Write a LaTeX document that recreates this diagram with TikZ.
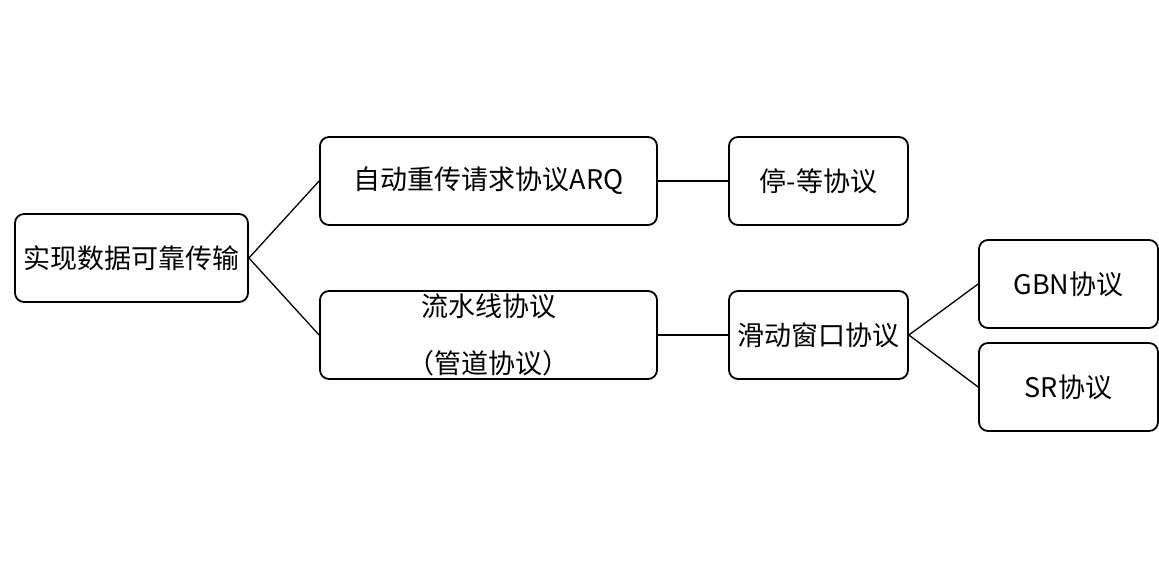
\documentclass[tikz,border=0pt]{standalone}
\usepackage{fontspec}
\setmainfont{Noto Sans CJK SC}
\begin{document}
\begin{tikzpicture}[x=1pt,y=-1pt,
  box/.style={draw, line width=1.8pt, rounded corners=9pt, inner sep=0pt,
    align=center, font=\fontsize{27}{57}\selectfont},
  link/.style={line width=1.3pt}]
\useasboundingbox (0,0) rectangle (1159,569);
\node[box, minimum width=233pt, minimum height=88pt] (root) at (131.5,258) {实现数据可靠传输};
\node[box, minimum width=337pt, minimum height=88pt] (arq) at (488.5,181) {自动重传请求协议ARQ};
\node[box, minimum width=337pt, minimum height=88pt] (pipe) at (488.5,335) {流水线协议\\（管道协议）};
\node[box, minimum width=179pt, minimum height=88pt] (sw) at (818.5,181) {停-等协议};
\node[box, minimum width=179pt, minimum height=88pt] (slide) at (818.5,335) {滑动窗口协议};
\node[box, minimum width=179pt, minimum height=88pt] (gbn) at (1068.5,284) {GBN协议};
\node[box, minimum width=179pt, minimum height=88pt] (sr) at (1068.5,387) {SR协议};
\draw[link] (root.east) -- (arq.west);
\draw[link] (root.east) -- (pipe.west);
\draw[link] (arq.east) -- (sw.west);
\draw[link] (pipe.east) -- (slide.west);
\draw[link] (slide.east) -- (gbn.west);
\draw[link] (slide.east) -- (sr.west);
\end{tikzpicture}
\end{document}
